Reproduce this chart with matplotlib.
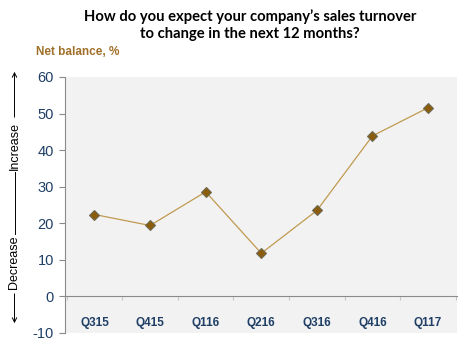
import matplotlib
matplotlib.use("Agg")
import matplotlib.pyplot as plt

# ---------------------------------------------------------------------------
# Data
# ---------------------------------------------------------------------------
quarters = ["Q315", "Q415", "Q116", "Q216", "Q316", "Q416", "Q117"]
net_balance = [22.4, 19.4, 28.6, 11.8, 23.5, 43.9, 51.6]
y_ticks = [-10, 0, 10, 20, 30, 40, 50, 60]

LINE_COLOR = "#c09a50"
MARKER_FACE = "#8a5c0c"
MARKER_EDGE = "#6e6a55"
LABEL_BLUE = "#1f3f66"
NET_COLOR = "#a0702a"
AXIS_GREY = "#8a8a8a"

fig = plt.figure(figsize=(4.62, 3.43), dpi=100)
fig.patch.set_facecolor("white")
ax = fig.add_axes([65 / 462, 10 / 343, 392 / 462, 256 / 343])
ax.set_facecolor("#f2f2f2")

x = list(range(len(quarters)))
ax.plot(x, net_balance, color=LINE_COLOR, lw=0.9, zorder=3)
ax.plot(x, net_balance, ls="none", marker="D", ms=5.5,
        mfc=MARKER_FACE, mec=MARKER_EDGE, mew=0.8, zorder=4)

ax.set_xlim(-0.53, 6.52)
ax.set_ylim(-10, 60)
ax.set_yticks(y_ticks)
ax.set_yticklabels([str(v) for v in y_ticks], color=LABEL_BLUE,
                   fontsize=10.5, family="Liberation Sans")
ax.tick_params(axis="y", direction="out", length=4, color=AXIS_GREY, pad=4)

# x axis sits on the zero line, ticks at category boundaries
for s in ["top", "right"]:
    ax.spines[s].set_visible(False)
ax.spines["left"].set_color(AXIS_GREY)
ax.spines["bottom"].set_color(AXIS_GREY)
ax.spines["bottom"].set_position(("data", 0))
ax.set_xticks([i + 0.5 for i in range(-1, len(quarters))])
ax.set_xticklabels([])
ax.tick_params(axis="x", direction="out", length=3, color="#c8c8c8")

for i, q in enumerate(quarters):
    ax.text(i, -7.2, q, ha="center", va="center", color=LABEL_BLUE,
            fontsize=8.5, fontweight="bold", family="Liberation Sans")

def fy(px):
    return 1 - px / 343

# title and unit label
fig.text(250 / 462, fy(25),
         "How do you expect your company\u2019s sales turnover\nto change in the next 12 months?",
         ha="center", va="center", fontsize=10.6, fontweight="bold",
         family="Lato", linespacing=1.3, color="black")
fig.text(36 / 462, fy(52), "Net balance, %", ha="left", va="center",
         fontsize=8.5, fontweight="bold", family="Liberation Sans", color=NET_COLOR)

# increase / decrease arrow on the left
ax_x = 14.5 / 462
fig.add_artist(plt.Line2D([ax_x, ax_x], [fy(234), fy(172)], color="black", lw=0.7))
fig.patches.append(matplotlib.patches.FancyArrowPatch(
    (ax_x, fy(120)), (ax_x, fy(69)), transform=fig.transFigure,
    arrowstyle="->", mutation_scale=8, color="black", lw=0.7))
fig.patches.append(matplotlib.patches.FancyArrowPatch(
    (ax_x, fy(291)), (ax_x, fy(326)), transform=fig.transFigure,
    arrowstyle="->", mutation_scale=8, color="black", lw=0.7))
fig.text(ax_x, fy(146), "Increase", rotation=90, ha="center", va="center",
         fontsize=9, family="Liberation Sans")
fig.text(ax_x, fy(262), "Decrease", rotation=90, ha="center", va="center",
         fontsize=9, family="Liberation Sans")

fig.savefig("out.png", dpi=100)
